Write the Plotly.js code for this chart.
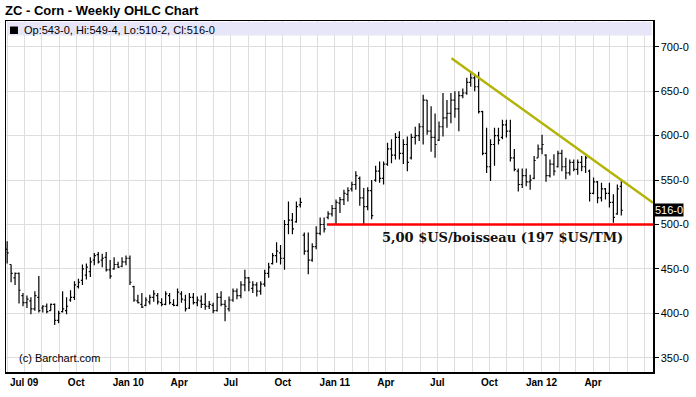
<!DOCTYPE html>
<html>
<head>
<meta charset="utf-8">
<script src="https://cdn.plot.ly/plotly-3.0.1.min.js"></script>
<style>html,body{margin:0;padding:0;background:#fff;}#chart{width:696px;height:397px;}</style>
</head>
<body>
<div id="chart"></div>
<script>
// Weekly bars, first week starting 2009-06-01
const firstWeek = '2009-06-01';
const openP = [472,455,440,445,420,412,414,405,418,406,408,403,410,392,402,403,415,418,430,437,
443,447,460,466,460,463,449,450,455,453,458,462,430,414,410,409,413,418,420,412,
410,420,410,409,422,415,406,418,412,414,410,408,409,403,418,410,405,415,425,420,
432,440,428,432,425,433,445,456,465,468,462,500,505,503,522,488,470,460,475,490,
500,508,512,518,524,528,534,540,545,552,530,520,538,550,560,552,568,585,578,598,
580,590,575,598,600,610,640,605,598,595,610,620,625,640,630,645,648,660,665,655,
627,580,565,590,600,598,612,605,575,560,545,555,548,552,575,585,578,555,568,565,
580,565,558,570,562,570,565,560,535,548,530,540,535,525,512,543];
const highP = [481,455,446,446,423,420,418,425,442,409,411,411,411,403,425,418,426,436,439,455,
456,463,468,469,467,469,460,463,458,463,465,465,431,421,423,418,421,426,423,417,
425,423,416,428,425,421,423,423,419,420,423,414,412,423,425,415,419,428,428,436,
449,441,436,435,436,449,457,468,480,477,505,526,513,526,530,491,491,479,498,508,
508,515,522,528,531,539,542,548,560,554,541,542,550,566,571,571,592,596,603,605,
596,599,602,610,614,646,640,633,625,616,648,640,648,650,650,653,665,672,668,672,
628,609,596,609,609,618,618,618,585,563,563,563,556,577,590,601,579,573,579,583,
584,575,573,573,573,577,577,562,553,549,547,541,547,534,545,549.5];
const lowP = [456,435,432,411,408,406,399,403,401,401,400,403,387,389,401,399,413,415,428,432,
438,441,454,456,452,447,439,449,451,452,454,432,413,411,406,408,410,413,410,408,
409,410,408,408,412,402,405,410,408,406,404,405,400,402,408,391,402,413,416,417,
425,425,423,419,421,430,440,455,457,455,449,489,489,502,519,466,444,458,472,488,
491,506,509,500,513,522,526,537,539,521,500,516,506,548,547,545,566,569,573,573,
568,560,573,590,594,590,601,582,575,594,599,609,614,620,605,642,646,655,650,625,
578,558,549,566,590,596,598,571,560,537,541,543,539,551,575,579,548,553,555,564,
560,551,555,560,556,560,558,526,534,524,526,528,519,502,511,510.25];
const closeP = [468,445,445,426,412,416,405,420,403,408,402,410,392,400,405,408,418,432,435,450,
452,458,465,458,462,449,442,455,452,458,462,435,415,412,407,415,418,422,413,410,
422,412,409,424,416,405,418,412,415,410,408,410,403,418,410,408,415,425,420,432,
440,435,432,425,433,445,452,465,470,462,500,505,495,520,525,470,460,475,490,500,
495,512,518,525,528,535,538,545,555,530,520,538,510,560,552,568,585,578,598,580,
590,570,598,600,610,640,605,598,590,610,620,625,640,630,645,648,660,665,655,627,
580,565,590,600,595,612,605,575,562,545,555,548,550,572,585,590,555,568,560,580,
565,558,570,562,570,565,575,535,548,530,540,535,525,508,540,516];

const yTickVals = [350,400,450,500,550,600,650,700];
const yTickText = ['350-0','400-0','450-0','500-0','550-0','600-0','650-0','700-0'];
const monthLabels = ['','Jul 09','','','Oct','','','Jan 10','','','Apr','','','Jul','','','Oct','','',
'Jan 11','','','Apr','','','Jul','','','Oct','','','Jan 12','','','Apr','','',''];
const lastBarText = 'Op:543-0, Hi:549-4, Lo:510-2, Cl:516-0';
const lastCloseText = '516-0';
const lastClose = 516;
const supportLevel = 500;
const supportStart = '2010-12-18';
const trendStart = ['2011-07-26', 687];
const trendEnd = ['2012-07-16', 524.5];
const noteText = '5,00 $US/boisseau (197 $US/TM)';

// dates for weekly bars
const dates = [];
{
  const d0 = new Date(firstWeek + 'T00:00:00Z');
  for (let i = 0; i < closeP.length; i++) {
    const d = new Date(d0.getTime() + i * 7 * 86400000);
    dates.push(d.toISOString().slice(0, 10));
  }
}
// monthly grid positions
const monthTicks = [];
{
  let y = 2009, m = 6;
  for (let k = 0; k < monthLabels.length; k++) {
    monthTicks.push(y + '-' + String(m).padStart(2, '0') + '-01');
    m++; if (m > 12) { m = 1; y++; }
  }
}

const trace = {
  type: 'ohlc', x: dates, open: openP, high: highP, low: lowP, close: closeP,
  increasing: {line: {color: '#000', width: 1.2}},
  decreasing: {line: {color: '#000', width: 1.2}},
  tickwidth: 0.4, hoverinfo: 'skip', showlegend: false
};

const sans = 'Liberation Sans, Arial, sans-serif';
const layout = {
  width: 696, height: 397,
  margin: {l: 6, r: 43, t: 21, b: 25},
  paper_bgcolor: '#fff', plot_bgcolor: '#fff',
  showlegend: false,
  title: {text: '<b>ZC - Corn - Weekly OHLC Chart</b>', font: {family: sans, size: 13, color: '#000'},
          xref: 'container', x: 5/696, xanchor: 'left', yref: 'container', y: 1 - 10/397, yanchor: 'middle'},
  xaxis: {type: 'date', range: ['2009-05-30', '2012-07-16'], tickmode: 'array', tickvals: monthTicks, ticktext: monthLabels,
          showgrid: true, gridcolor: '#dedede', gridwidth: 1, showline: true, linecolor: '#000', linewidth: 1.5, mirror: true,
          ticks: '', tickfont: {family: sans, size: 10, color: '#000', weight: 'bold'}, tickangle: 0,
          rangeslider: {visible: false}, zeroline: false, fixedrange: true},
  yaxis: {side: 'right', range: [334, 729], tickmode: 'array', tickvals: yTickVals, ticktext: yTickText,
          ticks: 'outside', ticklen: 4, tickcolor: '#000', tickwidth: 1,
          showgrid: true, gridcolor: '#dedede', gridwidth: 1, showline: true, linecolor: '#000', linewidth: 1.5, mirror: true,
          tickfont: {family: sans, size: 11, color: '#000'}, zeroline: false, fixedrange: true},
  shapes: [
    {type: 'rect', xref: 'paper', yref: 'paper', x0: 0.002, x1: 0.998, y0: 0.9587, y1: 0.997, fillcolor: '#e6e6f8', line: {width: 0}, layer: 'above'},
    {type: 'rect', xref: 'paper', yref: 'paper', x0: 0.0062, x1: 0.0185, y0: 0.963, y1: 0.9843, fillcolor: '#000', line: {width: 0}, layer: 'above'},
    {type: 'line', xref: 'x', yref: 'y', x0: supportStart, x1: '2012-07-16', y0: supportLevel, y1: supportLevel, line: {color: '#ff0000', width: 2.5}, layer: 'above'},
    {type: 'line', xref: 'x', yref: 'y', x0: trendStart[0], y0: trendStart[1], x1: trendEnd[0], y1: trendEnd[1], line: {color: '#b3b30a', width: 2.5}, layer: 'above'}
  ],
  annotations: [
    {xref: 'paper', yref: 'paper', x: 0.0247, y: 0.973, xanchor: 'left', yanchor: 'middle', text: lastBarText, showarrow: false,
     font: {family: sans, size: 11, color: '#000'}},
    {xref: 'paper', yref: 'paper', x: 0.017, y: 0.0399, xanchor: 'left', yanchor: 'middle', text: '(c) Barchart.com', showarrow: false,
     font: {family: sans, size: 11, color: '#000'}},
    {xref: 'paper', yref: 'paper', x: 0.578, y: 0.3818, xanchor: 'left', yanchor: 'middle', text: '<b>' + noteText + '</b>', showarrow: false,
     font: {family: 'DejaVu Serif, serif', size: 13, color: '#111'}},
    {xref: 'paper', yref: 'y', x: 1, y: lastClose, xanchor: 'left', yanchor: 'middle', xshift: 1, text: lastCloseText, showarrow: false,
     bgcolor: '#000', borderpad: 0, font: {family: sans, size: 11, color: '#fff'}}
  ]
};

Plotly.newPlot('chart', [trace], layout, {displayModeBar: false, staticPlot: true});
</script>
</body>
</html>
